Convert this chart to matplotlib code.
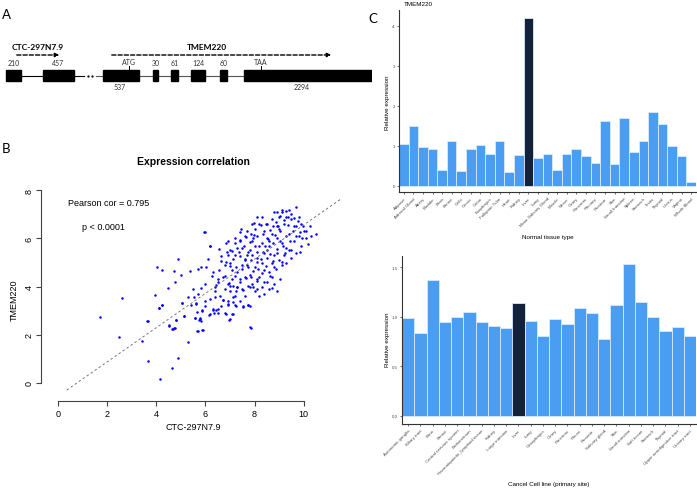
import matplotlib.pyplot as plt
from matplotlib.patches import Rectangle

plt.rcParams['font.family'] = ['Liberation Sans', 'DejaVu Sans']

W, H = 697, 489

# ---- panel A: gene structure (diagram units) ----
ctc_exons = [(6, 21), (43, 74)]
ctc_sizes = ['210', '457']
tmem_exons = [(103, 139), (153, 158), (171, 178), (191, 205), (220, 227), (244, 372)]
tmem_sizes = ['537', '30', '61', '124', '60', '2294']
tmem_size_below = [True, False, False, False, False, True]
codons = [('ATG', 129), ('TAA', 261)]

# ---- panel B: expression correlation ----
ctc_expr = [
    4.88, 4.02, 4.23, 4.72, 5.0, 5.37, 5.69, 4.76, 4.47, 2.6, 3.94, 5.28, 5.53, 5.04,
    4.23, 4.1, 5.61, 5.65, 5.12, 5.57, 5.73, 1.71, 3.66, 4.8, 4.51, 4.72, 4.67, 5.69,
    2.48, 3.41, 5.28, 4.88, 3.66, 4.63, 4.15, 7.84, 5.97, 6.18, 10.3,
    7.98, 7.43, 5.96, 7.4, 7.86, 7.99, 7.67, 7.41, 7.94, 7.8, 7.22, 6.18, 7.59, 8.02,
    6.83, 6.54, 7.1, 7.35, 7.73, 8.1, 6.86, 7.4, 7.63, 7.87, 8.08, 7.13, 6.65, 6.1,
    5.83, 6.02, 6.54, 6.99, 7.26, 7.47, 7.74, 7.94, 8.16, 6.64, 6.82, 6.25, 6.79, 7.2,
    7.4, 7.64, 7.87, 8.08, 6.52, 6.96, 7.13, 7.74, 7.94, 6.38,
    9.7, 9.13, 9.3, 8.78, 8.91, 9.5, 9.02, 9.37, 9.59, 9.19, 9.77, 8.86, 8.48, 8.75,
    8.96, 9.36, 9.97, 10.24, 8.28, 8.62, 9.05, 9.57, 9.84, 10.11, 10.52, 8.35, 8.82,
    9.3, 9.7, 9.95, 8.55, 9.02, 9.46, 10.18, 8.41, 8.75, 9.16, 8.91, 9.5, 8.35, 8.62,
    9.23, 9.84, 8.28, 8.75, 9.13, 8.46, 8.89, 8.32, 8.62, 9.02, 8.37, 8.72,
    5.84, 6.42, 7.02, 7.3, 7.53, 7.8, 7.26, 8.1, 6.79, 6.41, 7.13, 6.72, 5.88, 6.31,
    6.42, 6.52, 6.34, 6.65, 6.92, 7.2, 7.53, 7.74, 7.83, 6.15, 6.79, 7.13, 6.99, 5.77,
    5.81, 5.91, 7.83,
    5.03, 5.43, 5.61, 5.98, 6.7, 6.92, 7.13, 7.24, 7.53, 7.74, 4.25, 4.12, 5.12, 5.57,
    5.77, 5.88, 6.18, 6.31, 6.52, 6.83, 6.96, 7.1, 3.63, 4.52, 4.8, 4.76, 4.66, 5.66,
    5.88,
    # dense core
    7.5, 7.7, 7.9, 8.1, 8.2, 8.4, 8.5, 8.6, 8.7, 8.8, 8.9, 9.0, 9.1, 9.2, 9.3, 9.4, 9.5,
    9.6, 9.7, 9.8, 7.3, 7.5, 7.6, 7.8, 7.9, 8.0, 8.1, 8.2, 8.3, 8.4, 8.5, 8.6, 8.7, 8.8,
    8.9, 9.0, 9.1, 9.2, 9.3, 9.4, 7.0, 7.1, 7.2, 7.3, 7.4, 7.5, 7.6, 7.7, 7.8, 7.9, 8.0,
    8.1, 8.2, 8.3, 8.4, 8.5, 8.6, 8.7, 8.8, 8.9, 6.9, 6.8, 6.7, 6.9, 7.0, 7.1, 7.2, 7.3,
    7.4, 7.6, 8.0, 8.2, 8.3, 8.5, 8.7, 8.9, 9.0, 9.1, 9.3, 9.4, 9.6, 9.8, 9.9, 10.0, 9.7,
    9.5, 9.9, 10.1, 8.4, 8.6, 7.4, 7.6, 7.2, 7.0, 6.9, 7.7, 7.9, 8.1, 8.3, 8.5, 6.6, 6.9,
    6.4, 6.2, 6.0, 6.5, 6.3, 6.0, 5.7, 5.5,
]
tmem_expr = [
    5.15, 4.81, 4.69, 4.65, 4.48, 4.65, 4.73, 4.19, 3.94, 3.53, 3.65, 3.57, 3.57, 3.32,
    3.24, 3.11, 3.32, 2.95, 2.78, 2.7, 2.61, 2.74, 2.57, 2.61, 2.37, 2.28, 2.24, 2.16,
    1.91, 1.74, 1.7, 1.04, 0.91, 0.62, 0.17, 2.28, 6.27, 5.68, 6.1,
    6.62, 6.41, 6.28, 6.25, 6.2, 6.14, 6.04, 5.95, 6.0, 5.84, 5.81, 5.67, 5.7, 5.7,
    5.81, 5.56, 5.48, 5.42, 5.42, 5.45, 5.42, 5.26, 5.15, 5.12, 5.01, 5.15, 5.26, 5.15,
    4.8, 4.8, 4.7, 4.87, 4.8, 4.73, 4.8, 4.66, 4.73, 5.08, 5.01, 4.43, 4.45, 4.45,
    4.32, 4.34, 4.38, 4.25, 4.2, 4.17, 4.01, 4.04, 3.97, 3.97,
    7.29, 7.19, 7.15, 7.11, 7.08, 7.01, 6.94, 6.88, 6.83, 6.78, 6.74, 6.69, 6.6, 6.53,
    6.5, 6.56, 6.5, 6.53, 6.56, 6.36, 6.32, 6.32, 6.28, 6.32, 6.18, 6.18, 6.14,
    6.11, 6.09, 6.0, 5.98, 5.91, 5.91, 5.77, 5.7, 5.81, 5.7, 5.56, 5.53, 5.42, 5.35,
    5.39, 5.42, 5.15, 5.08, 5.04, 4.87, 4.73, 4.56, 4.45, 4.32, 4.2, 3.93,
    3.94, 4.07, 4.02, 4.0, 3.86, 3.97, 3.8, 3.91, 3.9, 3.56, 3.56, 3.44, 3.03, 3.07,
    3.04, 3.06, 2.89, 3.21, 3.28, 3.25, 3.17, 3.25, 3.21, 2.83, 2.89, 2.86, 2.66, 2.7,
    2.56, 2.2, 2.31,
    3.32, 3.24, 3.28, 3.41, 3.44, 3.24, 3.37, 3.21, 3.19, 3.24, 3.24, 3.1, 2.79, 2.68,
    2.66, 3.0, 2.86, 3.04, 2.9, 2.86, 2.63, 2.86, 2.56, 2.41, 2.63, 2.28, 2.24, 2.15,
    2.21,
    # dense core
    5.6, 5.3, 5.9, 6.1, 5.7, 6.3, 5.5, 5.9, 6.2, 5.3, 6.0, 6.4, 5.8, 6.6, 5.6, 6.2, 6.8,
    5.9, 6.5, 6.9, 4.6, 4.9, 5.1, 4.5, 5.3, 4.8, 5.2, 4.4, 5.0, 4.7, 5.2, 4.6, 5.0, 4.8,
    5.4, 5.1, 4.9, 5.3, 5.0, 5.5, 5.0, 4.7, 5.3, 5.6, 4.2, 3.9, 4.4, 4.9, 5.5, 4.1, 3.8,
    4.3, 3.6, 4.0, 3.7, 4.2, 3.9, 4.4, 4.1, 3.8, 5.3, 4.9, 4.4, 4.1, 3.8, 4.3, 3.6, 4.0,
    3.4, 3.6, 6.4, 6.6, 6.9, 6.6, 6.8, 6.5, 6.9, 7.1, 6.9, 7.2, 6.5, 6.1, 5.7, 6.3, 5.4,
    5.2, 6.6, 6.0, 5.4, 5.7, 5.9, 6.1, 6.0, 5.5, 5.9, 6.3, 6.6, 6.9, 5.8, 6.0, 3.6, 3.4,
    3.8, 3.5, 3.2, 4.3, 4.6, 4.1, 3.7, 3.9,
]
fit_intercept, fit_slope = -0.55, 0.711
fit_range = (0.36, 11.5)

# ---- panel C: relative expression ----
normal_tissues = ['Adipose', 'Adrenal Gland', 'Artery', 'Bladder', 'Brain', 'Breast', 'Cells',
                  'Cervix', 'Colon', 'Esophagus', 'Fallopian Tube', 'Heart', 'Kidney', 'Liver',
                  'Lung', 'Minor Salivary Gland', 'Muscle', 'Nerve', 'Ovary', 'Pancreas',
                  'Pituitary', 'Prostate', 'Skin', 'Small Intestine', 'Spleen', 'Stomach',
                  'Testis', 'Thyroid', 'Uterus', 'Vagina', 'Whole Blood']
normal_expr = [1.04, 1.5, 0.975, 0.91, 0.4, 1.11, 0.36, 0.92, 1.01, 0.8, 1.11, 0.33, 0.76, 4.19,
               0.69, 0.79, 0.4, 0.78, 0.91, 0.73, 0.57, 1.61, 0.53, 1.69, 0.83, 1.12, 1.83,
               1.53, 0.99, 0.74, 0.09]
cancer_sites = ['Autonomic ganglia', 'Biliary tract', 'Bone', 'Breast', 'Central nervous system',
                'Endometrium', 'Haematopoietic_lymphoid tissue', 'Kidney', 'Large intestine',
                'Liver', 'Lung', 'Oesophagus', 'Ovary', 'Pancreas', 'Pleura', 'Prostate',
                'Salivary gland', 'Skin', 'Small intestine', 'Soft tissue', 'Stomach', 'Thyroid',
                'Upper aerodigestive tract', 'Urinary tract']
cancer_expr = [0.983, 0.838, 1.37, 0.943, 1.0, 1.047, 0.95, 0.912, 0.886, 1.138, 0.956, 0.805,
               0.973, 0.923, 1.09, 1.034, 0.771, 1.121, 1.532, 1.145, 1.0, 0.855, 0.892, 0.801]

BLUE = '#4a9df0'
NAVY = '#14213a'


def box(x0, y0, x1, y1):
    return [x0 / W, 1 - y1 / H, (x1 - x0) / W, (y1 - y0) / H]


def ftext(x, y, s, **kw):
    fig.text(x / W, 1 - y / H, s, **kw)


fig = plt.figure(figsize=(W / 100, H / 100), dpi=100)

# panel letters
ftext(6, 15, 'A', fontsize=9.5, family='Lato', ha='center', va='center')
ftext(6, 149, 'B', fontsize=9.5, family='Lato', ha='center', va='center')
ftext(373, 19, 'C', fontsize=9.5, family='Lato', ha='center', va='center')

# ---- A ----
axa = fig.add_axes(box(0, 40, 372, 95))
axa.set_xlim(0, 372)
axa.set_ylim(95, 40)
axa.axis('off')
axa.plot([ctc_exons[0][1], ctc_exons[1][0]], [77, 77], color='black', lw=0.8)
axa.plot([ctc_exons[1][1], 84], [77, 77], color='black', lw=0.8)
axa.plot([88, 92], [77, 77], color='black', lw=0, marker='.', ms=1.2)
axa.plot([96, tmem_exons[-1][0]], [77, 77], color='#555555', lw=0.8, zorder=0)
for (a, b), lab in zip(ctc_exons, ctc_sizes):
    axa.add_patch(Rectangle((a, 71), b - a, 11, color='black'))
    axa.text((a + b) / 2, 67, lab, fontsize=5, family='Lato', ha='center', va='bottom', color='#333333')
for (a, b), lab, below in zip(tmem_exons, tmem_sizes, tmem_size_below):
    axa.add_patch(Rectangle((a, 71), b - a, 11, color='black'))
    if below:
        axa.text(a + (17 if a < 200 else 58), 84, lab, fontsize=5, family='Lato', ha='center', va='top', color='#333333')
    else:
        axa.text((a + b) / 2, 67, lab, fontsize=5, family='Lato', ha='center', va='bottom', color='#333333')
for lab, xc in codons:
    axa.plot([xc, xc], [67, 71], color='black', lw=0.7)
    axa.text(xc, 66, lab, fontsize=5, family='Lato', ha='center', va='bottom', color='#333333')
axa.annotate('', xy=(62, 56), xytext=(14, 56),
             arrowprops=dict(arrowstyle='-|>', ls=(0, (3, 1.5)), lw=1, color='black', mutation_scale=6))
axa.annotate('', xy=(334, 56), xytext=(109, 56),
             arrowprops=dict(arrowstyle='-|>', ls=(0, (3, 1.5)), lw=1, color='black', mutation_scale=6))
axa.text(38, 48, 'CTC-297N7.9', fontsize=6, family='Lato', weight='bold', ha='center', va='center')
axa.text(207, 48, 'TMEM220', fontsize=6, family='Lato', weight='bold', ha='center', va='center')

# ---- B ----
axb = fig.add_axes(box(41, 185, 343, 402))
axb.scatter(ctc_expr, tmem_expr, s=3.2, color='#0000ff', linewidths=0)
axb.plot(fit_range, [fit_intercept + fit_slope * v for v in fit_range],
         color='#777777', lw=0.7, ls=(0, (2.5, 2.5)))
axb.set_xlim(-0.69, 11.6)
axb.set_ylim(-0.75, 8.26)
for side in ['top', 'right']:
    axb.spines[side].set_visible(False)
axb.spines['left'].set_bounds(0, 8)
axb.spines['bottom'].set_bounds(0, 10)
for side in ['left', 'bottom']:
    axb.spines[side].set_color('#444444')
axb.set_xticks(range(0, 11, 2))
axb.set_yticks(range(0, 9, 2))
axb.tick_params(length=3.5, width=0.8, color='#444444', labelsize=6.5, pad=2)
plt.setp(axb.get_yticklabels(), rotation=90, va='center')
axb.text(0.41, 7.51, 'Pearson cor = 0.795', fontsize=6.5, va='center')
axb.text(0.98, 6.51, 'p < 0.0001', fontsize=6.5, va='center')
ftext(193, 162, 'Expression correlation', fontsize=7.5, weight='bold', ha='center', va='center')
ftext(193, 428, 'CTC-297N7.9', fontsize=6.5, ha='center', va='center')
ftext(14, 300, 'TMEM220', fontsize=6.5, rotation=90, ha='center', va='center')


# ---- C ----
def bar_panel(rect, names, values, ylim, yticks, fmt):
    ax = fig.add_axes(rect)
    colors = [NAVY if n == 'Liver' else BLUE for n in names]
    ax.bar(range(len(names)), values, width=1.0, color=colors, edgecolor='#d6ebff', linewidth=0.6)
    ax.set_xlim(-0.5, len(names) - 0.5)
    ax.set_ylim(*ylim)
    ax.set_yticks(yticks)
    ax.set_yticklabels([fmt.format(t) for t in yticks])
    ax.set_xticks(range(len(names)))
    ax.set_xticklabels(names, rotation=45, ha='right', rotation_mode='anchor')
    for side in ['top', 'right']:
        ax.spines[side].set_visible(False)
    for side in ['left', 'bottom']:
        ax.spines[side].set_color('#333333')
        ax.spines[side].set_linewidth(0.8)
    ax.tick_params(length=1.5, width=0.5, color='#333333', labelsize=3.2, labelcolor='#4d4d4d', pad=1.5)
    return ax


bar_panel(box(399, 11, 696, 193), normal_tissues, normal_expr, (-0.16, 4.39), [0, 1, 2, 3, 4], '{}')
bar_panel(box(402, 257, 696, 425), cancer_sites, cancer_expr, (-0.084, 1.615), [0, 0.5, 1.0, 1.5], '{:.1f}')
ftext(418, 4, 'TMEM220', fontsize=4.5, ha='center', va='center')
ftext(388, 103, 'Relative expression', fontsize=4.5, rotation=90, ha='center', va='center')
ftext(388, 340, 'Relative expression', fontsize=4.5, rotation=90, ha='center', va='center')
ftext(548, 238, 'Normal tissue type', fontsize=4.5, ha='center', va='center')
ftext(549, 485, 'Cancel Cell line (primary site)', fontsize=4.5, ha='center', va='center')

fig.savefig('out.png', dpi=100)
